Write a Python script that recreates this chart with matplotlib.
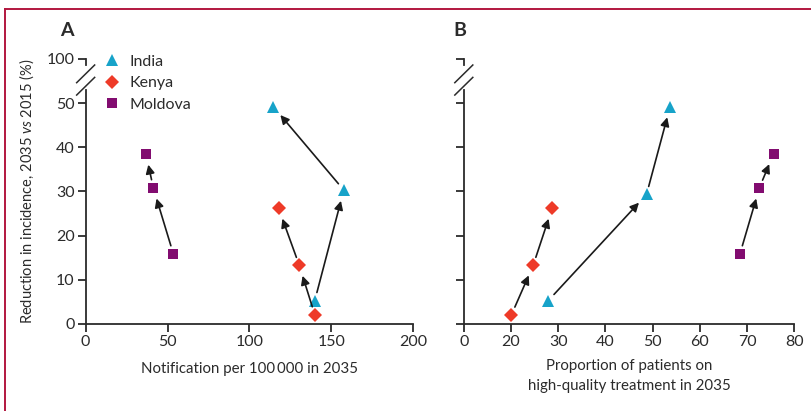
import matplotlib
matplotlib.use("Agg")
import matplotlib.pyplot as plt
from matplotlib.lines import Line2D
import numpy as np

plt.rcParams['font.family'] = ['Lato', 'DejaVu Sans']
plt.rcParams['mathtext.fontset'] = 'custom'
plt.rcParams['mathtext.it'] = 'Lato:italic'
plt.rcParams['mathtext.rm'] = 'Lato'

# data (reduction in incidence, 2035 vs 2015, %)
countries = ["India", "Kenya", "Moldova"]
colors = ["#17a3c9", "#ee3a28", "#820c70"]
markers = ["^", "D", "s"]
msizes = [9, 7, 7.5]

# panel A: notification per 100 000 in 2035
notif = {
    "India": [139.9, 157.6, 114.5],
    "Kenya": [139.9, 130.4, 117.8],
    "Moldova": [53.5, 41.3, 36.8],
}
red_a = {
    "India": [5.3, 30.3, 49.2],
    "Kenya": [2.1, 13.3, 26.2],
    "Moldova": [15.9, 30.8, 38.5],
}
# panel B: proportion on high-quality treatment in 2035
hq = {
    "India": [27.9, 48.7, 53.7],
    "Kenya": [20.1, 24.7, 28.7],
    "Moldova": [68.5, 72.6, 75.6],
}
red_b = {
    "India": [5.3, 29.3, 49.2],
    "Kenya": [2.1, 13.3, 26.2],
    "Moldova": [15.9, 30.8, 38.5],
}

yticks = [0, 10, 20, 30, 40, 50, 60]
ytick_labels = ["0", "10", "20", "30", "40", "50", "100"]
xticks_a = [0, 50, 100, 150, 200]
xticks_b = [10, 20, 30, 40, 50, 60, 70, 80]
xtick_labels_b = ["0", "20", "30", "40", "50", "60", "70", "80"]

ink = "#2b2b2b"
fig = plt.figure(figsize=(8.12, 4.11), dpi=100)
axA = fig.add_axes([0.1055, 0.2117, 0.4034, 0.6452])
axB = fig.add_axes([0.5712, 0.2117, 0.4070, 0.6452])


def style(ax, xlim, xticks, xlabels, ylabels=True):
    ax.set_xlim(*xlim)
    ax.set_ylim(0, 60)
    for s in ["top", "right"]:
        ax.spines[s].set_visible(False)
    for s in ["left", "bottom"]:
        ax.spines[s].set_color(ink)
        ax.spines[s].set_linewidth(1.3)
    ax.spines["left"].set_bounds(0, 53)
    ax.spines["bottom"].set_bounds(*xlim)
    ax.set_xticks(xticks)
    ax.set_xticklabels(xlabels)
    ax.set_yticks(yticks)
    ax.set_yticklabels(ytick_labels if ylabels else [])
    ax.tick_params(direction="out", length=6, width=1.3, color=ink,
                   labelcolor=ink, labelsize=11.5, pad=2)
    # axis break on y
    tr = ax.get_yaxis_transform()
    ax.plot([0, 0], [58.6, 60], color=ink, lw=1.3, transform=tr, clip_on=False)
    dx = 9 / (ax.get_position().width * 812)
    for yc in [56.6, 53.8]:
        ax.plot([-dx, dx], [yc - 2.0, yc + 2.0], color=ink, lw=1.1,
                transform=tr, clip_on=False)


def draw(ax, xs, ys):
    for c, col, m, ms in zip(countries, colors, markers, msizes):
        x = xs[c]
        y = ys[c]
        for i in range(len(x) - 1):
            ax.annotate("", xy=(x[i + 1], y[i + 1]), xytext=(x[i], y[i]),
                        arrowprops=dict(arrowstyle="-|>", color="#1a1a1a", lw=1.2,
                                        mutation_scale=13, shrinkA=6, shrinkB=8))
        ax.plot(x, y, linestyle="none", marker=m, markersize=ms, color=col,
                markeredgewidth=0, label=c, clip_on=False, zorder=3)


style(axA, (0, 200), xticks_a, [str(t) for t in xticks_a])
style(axB, (10, 80), xticks_b, xtick_labels_b, ylabels=False)
draw(axA, notif, red_a)
draw(axB, hq, red_b)

axA.set_xlabel("Notification per 100\u2009000 in 2035", fontsize=10.8, color=ink, labelpad=9)
axB.set_xlabel("Proportion of patients on\nhigh-quality treatment in 2035", fontsize=10.8,
               color=ink, labelpad=7, linespacing=1.6)
axA.set_ylabel("Reduction in incidence, 2035 $\\it{vs}$ 2015 (%)", fontsize=10.5,
               color=ink)
axA.yaxis.set_label_coords(-0.152, 0.5)

leg = axA.legend(loc="upper left", bbox_to_anchor=(0.035, 1.04), frameon=False,
                 fontsize=11.5, handlelength=1.0, handletextpad=0.6,
                 labelspacing=0.45, borderaxespad=0)
for t in leg.get_texts():
    t.set_color(ink)

fig.text(67 / 812, 1 - 31 / 411, "A", fontsize=14, fontweight="bold", color=ink,
         ha="center", va="center")
fig.text(460 / 812, 1 - 31 / 411, "B", fontsize=14, fontweight="bold", color=ink,
         ha="center", va="center")

# frame lines
border = "#b2173f"
fig.add_artist(Line2D([5 / 812, 5 / 812], [0, 1 - 9 / 411], color=border, lw=1.4,
                      transform=fig.transFigure))
fig.add_artist(Line2D([5 / 812, 1], [1 - 9 / 411, 1 - 9 / 411], color=border, lw=1.4,
                      transform=fig.transFigure))

fig.savefig("out.png", dpi=100)
